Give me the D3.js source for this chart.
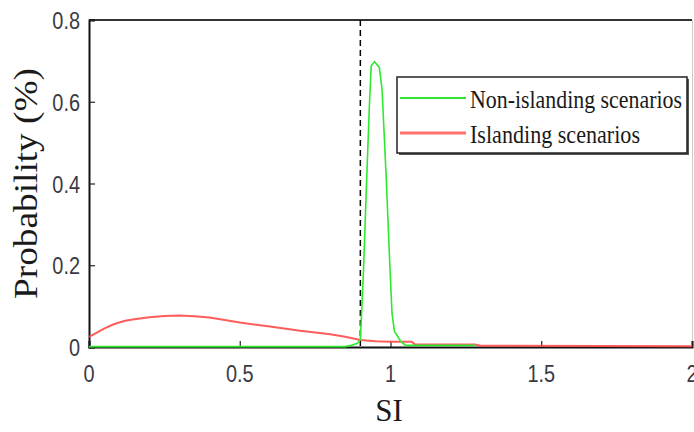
<!DOCTYPE html>
<html>
<head>
<meta charset="utf-8">
<script src="https://cdn.jsdelivr.net/npm/d3@7"></script>
<style>
  html, body { margin: 0; padding: 0; background: #fff; }
  svg { display: block; }
</style>
</head>
<body>
<svg id="chart" width="694" height="432"></svg>
<script>
// ---- data ----
const xTicks = [0, 0.5, 1, 1.5, 2];
const xTickLabels = ["0", "0.5", "1", "1.5", "2"];
const yTicks = [0, 0.2, 0.4, 0.6, 0.8];
const yTickLabels = ["0", "0.2", "0.4", "0.6", "0.8"];
const threshold = 0.9;

const islandX = [0, 0.02, 0.05, 0.08, 0.1, 0.12, 0.15, 0.2, 0.25, 0.3, 0.35, 0.4, 0.5, 0.6, 0.7, 0.8, 0.85, 0.9, 0.95, 1.0, 1.07, 1.08, 1.28, 1.3, 2.0];
const islandY = [0.025, 0.033, 0.045, 0.055, 0.060, 0.064, 0.068, 0.073, 0.076, 0.077, 0.075, 0.072, 0.060, 0.050, 0.040, 0.031, 0.025, 0.017, 0.014, 0.013, 0.013, 0.007, 0.006, 0.003, 0.002];

const nonIslandX = [0, 0.85, 0.87, 0.89, 0.9, 0.91, 0.922, 0.93, 0.936, 0.947, 0.963, 0.972, 0.985, 0.999, 1.005, 1.013, 1.035, 1.05, 1.28];
const nonIslandY = [0.001, 0.001, 0.004, 0.009, 0.018, 0.18, 0.43, 0.59, 0.688, 0.698, 0.684, 0.63, 0.427, 0.18, 0.083, 0.038, 0.013, 0.004, 0.004];

const seriesNames = ["Non-islanding scenarios", "Islanding scenarios"];
const xLabel = "SI";
const yLabel = "Probability (%)";

// ---- layout ----
const svg = d3.select("#chart");
const L = 89, R = 692, T = 20, B = 347;
const x = d3.scaleLinear().domain([0, 2]).range([L, R]);
const y = d3.scaleLinear().domain([0, 0.8]).range([B, T]);

const tickFont = "'Liberation Sans', Arial, sans-serif";
const serif = "'Liberation Serif', 'Times New Roman', serif";

// box top / right
svg.append("line").attr("x1", L).attr("x2", R).attr("y1", T).attr("y2", T)
  .attr("stroke", "#333").attr("stroke-width", 2);
svg.append("line").attr("x1", R + 0.5).attr("x2", R + 0.5).attr("y1", T).attr("y2", B)
  .attr("stroke", "#ccc").attr("stroke-width", 1);

// axes
const xAxis = d3.axisBottom(x).tickValues(xTicks).tickSize(-6).tickFormat("");
const yAxis = d3.axisLeft(y).tickValues(yTicks).tickSize(-6).tickFormat("");
const gx = svg.append("g").attr("transform", `translate(0,${B})`).call(xAxis);
const gy = svg.append("g").attr("transform", `translate(${L},0)`).call(yAxis);
[gx, gy].forEach(g => {
  g.select(".domain").attr("stroke", "#111").attr("stroke-width", 2);
  g.selectAll(".tick line").attr("stroke", "#222").attr("stroke-width", 1.2);
});

// tick labels (condensed)
xTicks.forEach((v, i) => {
  svg.append("text")
    .attr("transform", `translate(${x(v)},382) scale(0.83,1)`)
    .attr("text-anchor", "middle")
    .attr("font-family", tickFont).attr("font-size", 24)
    .attr("fill", "#3a3a44")
    .text(xTickLabels[i]);
});
yTicks.forEach((v, i) => {
  svg.append("text")
    .attr("transform", `translate(80,${y(v) + 9}) scale(0.83,1)`)
    .attr("text-anchor", "end")
    .attr("font-family", tickFont).attr("font-size", 24)
    .attr("fill", "#3a3a44")
    .text(yTickLabels[i]);
});

// threshold dashed line
svg.append("line")
  .attr("x1", x(threshold)).attr("x2", x(threshold))
  .attr("y1", T).attr("y2", B)
  .attr("stroke", "#000").attr("stroke-width", 1.5)
  .attr("stroke-dasharray", "6,4");

// curves
const line = d3.line().x(d => x(d[0])).y(d => y(d[1]));
const redData = islandX.map((v, i) => [v, islandY[i]]);
const greenData = nonIslandX.map((v, i) => [v, nonIslandY[i]]);

svg.append("path").datum(redData).attr("d", line)
  .attr("fill", "none").attr("stroke", "#ff4a4a").attr("stroke-width", 2)
  .attr("stroke-opacity", 0.9);
svg.append("path").datum(greenData).attr("d", line)
  .attr("fill", "none").attr("stroke", "#2ee82e").attr("stroke-width", 1.6);

// legend
const lg = svg.append("g");
lg.append("rect").attr("x", 399).attr("y", 79).attr("width", 290).attr("height", 76)
  .attr("fill", "#555");
lg.append("rect").attr("x", 397).attr("y", 77).attr("width", 290).attr("height", 76)
  .attr("fill", "#fff").attr("stroke", "#222").attr("stroke-width", 1.5);
const legendColors = ["#2ee82e", "#ff7070"];
const legendY = [98, 133];
const legendLen = [212, 170];
seriesNames.forEach((name, i) => {
  lg.append("line").attr("x1", 400).attr("x2", 466)
    .attr("y1", legendY[i]).attr("y2", legendY[i])
    .attr("stroke", legendColors[i]).attr("stroke-width", i === 0 ? 2 : 3);
  lg.append("text").attr("x", 470).attr("y", legendY[i] + 10)
    .attr("font-family", serif).attr("font-size", 26)
    .attr("fill", "#1a1a1a")
    .attr("textLength", legendLen[i]).attr("lengthAdjust", "spacingAndGlyphs")
    .text(name);
});

// axis titles
svg.append("text").attr("x", 389).attr("y", 421)
  .attr("text-anchor", "middle")
  .attr("font-family", serif).attr("font-size", 31).attr("fill", "#1a1a1a")
  .text(xLabel);
svg.append("text")
  .attr("transform", `translate(37,${(T + B) / 2}) rotate(-90)`)
  .attr("text-anchor", "middle")
  .attr("font-family", serif).attr("font-size", 34).attr("fill", "#1a1a1a")
  .attr("textLength", 231).attr("lengthAdjust", "spacingAndGlyphs")
  .text(yLabel);
</script>
</body>
</html>
